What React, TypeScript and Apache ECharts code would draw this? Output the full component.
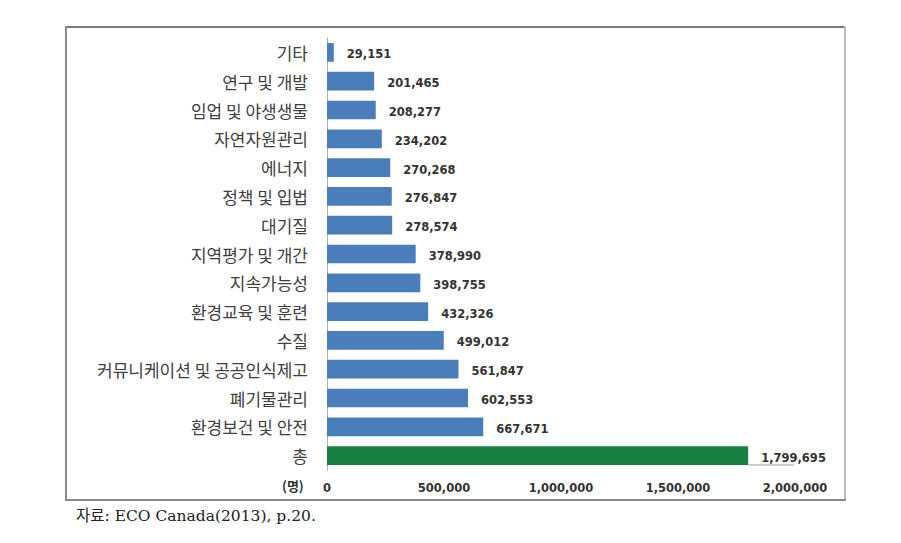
import React, { useEffect, useRef } from "react";
import * as echarts from "echarts";

const categories = [
  "기타",
  "연구 및 개발",
  "임업 및 야생생물",
  "자연자원관리",
  "에너지",
  "정책 및 입법",
  "대기질",
  "지역평가 및 개간",
  "지속가능성",
  "환경교육 및 훈련",
  "수질",
  "커뮤니케이션 및 공공인식제고",
  "폐기물관리",
  "환경보건 및 안전",
  "총",
];
const values = [
  29151, 201465, 208277, 234202, 270268, 276847, 278574, 378990, 398755,
  432326, 499012, 561847, 602553, 667671, 1799695,
];
const xTicks = [0, 500000, 1000000, 1500000, 2000000];
const unitLabel = "(명)";
const sourceText = "자료: ECO Canada(2013), p.20.";

const BLUE = "#4a7ebb";
const GREEN = "#178040";

export default function App() {
  const ref = useRef<HTMLDivElement>(null);
  useEffect(() => {
    if (!ref.current) return;
    const chart = echarts.init(ref.current, null, { renderer: "svg" });
    const fmt = (v: number) => v.toLocaleString("en-US");
    const lastIdx = categories.length - 1;
    const option: any = {
      animation: false,
      backgroundColor: "#ffffff",
      grid: { left: 327, right: 106, top: 38, bottom: 73, containLabel: false },
      xAxis: {
        type: "value",
        min: xTicks[0],
        max: xTicks[xTicks.length - 1],
        interval: xTicks[1] - xTicks[0],
        axisLine: { show: false },
        axisTick: { show: false },
        splitLine: { show: false },
        axisLabel: {
          margin: 12,
          color: "#333",
          fontFamily: "DejaVu Sans",
          fontWeight: "bold",
          fontSize: 11.5,
          formatter: (v: number) => fmt(v),
        },
      },
      yAxis: {
        type: "category",
        data: categories,
        inverse: true,
        axisLine: { show: true, lineStyle: { color: "#b0b0b0", width: 1 } },
        axisTick: { show: false },
        axisLabel: {
          margin: 19,
          color: "#404040",
          fontFamily: "Noto Sans CJK KR",
          fontSize: 17,
        },
      },
      series: [
        {
          type: "bar",
          barCategoryGap: "35%",
          data: values.map((v, i) => ({
            value: v,
            itemStyle: { color: i === lastIdx ? GREEN : BLUE },
          })),
          label: {
            show: true,
            position: "right",
            distance: 13,
            offset: [0, 2],
            color: "#333",
            fontFamily: "DejaVu Sans",
            fontWeight: "bold",
            fontSize: 11.5,
            formatter: (p: any) => fmt(p.value),
          },
        },
      ],
      graphic: [
        { type: "line", shape: { x1: 65, y1: 27, x2: 845, y2: 27 }, style: { stroke: "#7a7a7a", lineWidth: 2 } },
        { type: "line", shape: { x1: 66, y1: 26, x2: 66, y2: 501 }, style: { stroke: "#8a8a8a", lineWidth: 2 } },
        { type: "line", shape: { x1: 845, y1: 26, x2: 845, y2: 501 }, style: { stroke: "#bdbdbd", lineWidth: 2 } },
        { type: "line", shape: { x1: 65, y1: 500, x2: 846, y2: 500 }, style: { stroke: "#8a8a8a", lineWidth: 2 } },
        {
          type: "text",
          left: 282,
          top: 479,
          style: {
            text: unitLabel,
            fill: "#333",
            font: "bold 13px 'Noto Sans CJK KR'",
          },
        },
        {
          type: "text",
          left: 76,
          top: 508,
          style: {
            text: sourceText,
            fill: "#222",
            font: "15.5px 'DejaVu Serif', 'Noto Sans CJK KR'",
          },
        },
      ],
    };
    chart.setOption(option);
    // leader line under total label
    const end = chart.convertToPixel({ gridIndex: 0 }, [values[lastIdx], lastIdx]) as number[];
    const band =
      (chart.convertToPixel({ gridIndex: 0 }, [0, 1]) as number[])[1] -
      (chart.convertToPixel({ gridIndex: 0 }, [0, 0]) as number[])[1];
    const barBottom = end[1] + (band * 0.65) / 2;
    const labelEnd = end[0] + 46;
    chart.setOption({
      graphic: [
        ...option.graphic,
        {
          type: "line",
          shape: { x1: end[0], y1: barBottom, x2: labelEnd, y2: barBottom },
          style: { stroke: "#a0a0a0", lineWidth: 1 },
        },
      ],
    });
    return () => chart.dispose();
  }, []);
  return (
    <div
      ref={ref}
      style={{ position: "fixed", left: 0, top: 0, width: 901, height: 543 }}
    />
  );
}
